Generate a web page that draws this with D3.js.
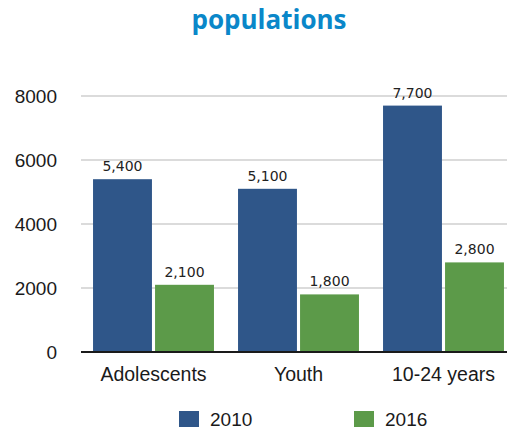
<!DOCTYPE html>
<html>
<head>
<meta charset="utf-8">
<script src="https://cdn.jsdelivr.net/npm/d3@7"></script>
<style>
  html, body { margin: 0; padding: 0; background: #fff; }
  svg { display: block; }
</style>
</head>
<body>
<svg id="chart" width="510" height="430"></svg>
<script>
// Chart data
const categories = ["Adolescents", "Youth", "10-24 years"];
const seriesNames = ["2010", "2016"];
const values2010 = [5400, 5100, 7700];
const values2016 = [2100, 1800, 2800];
const yTicks = [0, 2000, 4000, 6000, 8000];

const seriesValues = [values2010, values2016];
const colors = ["#2f5689", "#5c9a49"];

const svg = d3.select("#chart");
const W = 510, H = 430;

// Title
svg.append("text")
  .attr("x", 269).attr("y", 29)
  .attr("text-anchor", "middle")
  .attr("font-family", "'Open Sans', sans-serif")
  .attr("font-weight", "bold")
  .attr("font-size", 26)
  .attr("fill", "#0a87c9")
  .text("populations");

// Scales
const y = d3.scaleLinear().domain([0, 8000]).range([352, 96]);
const x = d3.scaleBand().domain(categories).range([81, 516])
  .paddingInner(0.166).paddingOuter(0.083);
const xs = d3.scaleBand().domain(seriesNames).range([0, x.bandwidth()]).paddingInner(0.05);

// Gridlines
svg.append("g")
  .selectAll("line")
  .data(yTicks.filter(d => d > 0))
  .join("line")
  .attr("x1", 81).attr("x2", 507)
  .attr("y1", d => y(d)).attr("y2", d => y(d))
  .attr("stroke", "#cfcfcf")
  .attr("stroke-width", 1.5);

// Y axis labels
const yAxis = d3.axisLeft(y).tickValues(yTicks).tickSize(0).tickPadding(0).tickFormat(d3.format("d"));
const gy = svg.append("g").attr("transform", "translate(57,0)").call(yAxis);
gy.select(".domain").remove();
gy.selectAll("text")
  .attr("font-family", "'Liberation Sans', Arial, sans-serif")
  .attr("font-size", 19)
  .attr("fill", "#1a1a1a")
  .attr("dy", "0.35em");

// Bars and value labels
const groups = svg.append("g").selectAll("g")
  .data(categories)
  .join("g")
  .attr("transform", d => `translate(${x(d)},0)`);

groups.each(function(cat, ci) {
  const g = d3.select(this);
  seriesNames.forEach((s, si) => {
    const v = seriesValues[si][ci];
    g.append("rect")
      .attr("x", xs(s))
      .attr("y", y(v))
      .attr("width", xs.bandwidth())
      .attr("height", y(0) - y(v))
      .attr("fill", colors[si]);
    g.append("text")
      .attr("x", xs(s) + xs.bandwidth() / 2)
      .attr("y", y(v) - 8)
      .attr("text-anchor", "middle")
      .attr("font-family", "'DejaVu Sans', Verdana, sans-serif")
      .attr("font-size", 14)
      .attr("fill", "#222")
      .text(d3.format(",")(v));
  });
});

// Baseline
svg.append("line")
  .attr("x1", 81).attr("x2", 507)
  .attr("y1", y(0)).attr("y2", y(0))
  .attr("stroke", "#1a1a1a")
  .attr("stroke-width", 2);

// Category labels
const xAxis = d3.axisBottom(x).tickSize(0).tickPadding(0);
const gx = svg.append("g").attr("transform", "translate(0,381)").call(xAxis);
gx.select(".domain").remove();
gx.selectAll("text")
  .attr("dy", 0)
  .attr("font-family", "'Liberation Sans', Arial, sans-serif")
  .attr("font-size", 19.5)
  .attr("fill", "#1a1a1a");

// Legend
const legendX = [179, 354];
const legend = svg.append("g").selectAll("g")
  .data(seriesNames)
  .join("g")
  .attr("transform", (d, i) => `translate(${legendX[i]},411)`);
legend.append("rect")
  .attr("width", 20).attr("height", 16)
  .attr("fill", (d, i) => colors[i]);
legend.append("text")
  .attr("x", 31).attr("y", 15)
  .attr("font-family", "'Liberation Sans', Arial, sans-serif")
  .attr("font-size", 19)
  .attr("fill", "#1a1a1a")
  .text(d => d);
</script>
</body>
</html>
